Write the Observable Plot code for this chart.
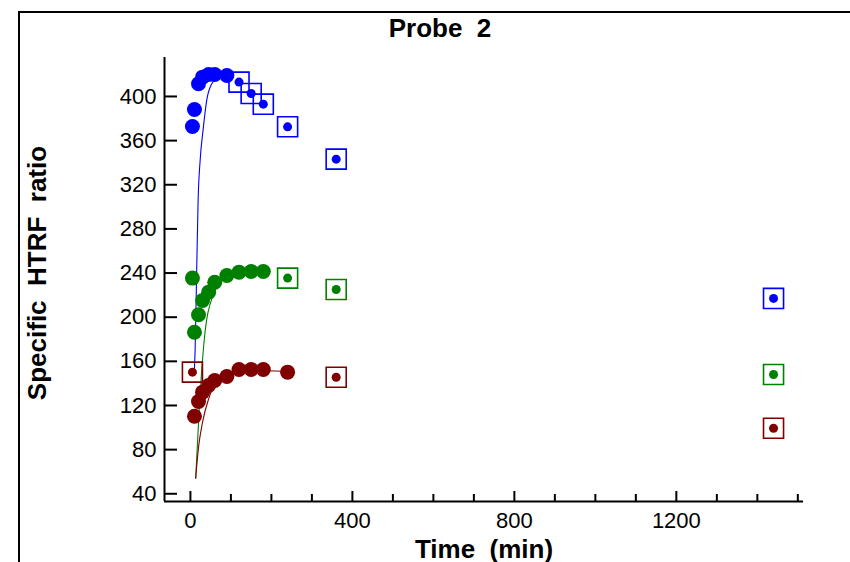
<!DOCTYPE html>
<html><head><meta charset="utf-8">
<script src="https://cdn.jsdelivr.net/npm/d3@7"></script>
<script src="https://cdn.jsdelivr.net/npm/@observablehq/plot@0.6"></script>
<style>
body{margin:0;background:#fff;}
#wrap{position:relative;width:850px;height:562px;overflow:hidden;}
#wrap svg{position:absolute;left:0;top:0;}
#border{position:absolute;left:18px;top:11px;width:900px;height:600px;border:2px solid #000;pointer-events:none;}
</style></head><body><div id="wrap"><div id="border"></div></div>
<script>
// ---- data ----
const seriesNames = ["series A", "series B", "series C"];
const seriesColors = ["#0000ff", "#008000", "#800000"];

// fitted points (large filled circles)
const blueCircleT = [5, 10, 20, 30, 45, 60, 90];
const blueCircleV = [372.8, 388.2, 411.5, 417.5, 419.9, 419.9, 419];
const greenCircleT = [5, 10, 20, 30, 45, 60, 90, 120, 150, 180];
const greenCircleV = [235.4, 186.4, 202.2, 215.2, 222.7, 231.7, 237.8, 240.8, 241.4, 241.4];
const redCircleT = [10, 20, 30, 45, 60, 90, 120, 150, 180, 240];
const redCircleV = [110.3, 123.6, 132.1, 138.1, 142.7, 146.3, 152.6, 152.6, 152.6, 150.2];

// excluded points (small dots in open squares)
const blueSquareT = [120, 150, 180, 240, 360, 1440];
const blueSquareV = [413, 402.7, 393, 372.5, 343.2, 217];
const greenSquareT = [240, 360, 1440];
const greenSquareV = [235.4, 225.1, 148.1];
const redSquareT = [5, 360, 1440];
const redSquareV = [150.2, 145.6, 99.4];

// fitted curves
const blueFitT = [10, 11.6, 15, 19, 24, 32, 40, 52, 65, 90];
const blueFitV = [154, 170, 233, 306, 342, 372, 396, 411, 416, 419];
const greenFitT = [13, 22, 33, 54, 90, 120, 180];
const greenFitV = [54, 118, 175, 218, 237, 240, 241];
const redFitT = [13, 20, 30, 45, 60, 90, 120, 180, 240];
const redFitV = [54, 82, 105, 126, 139, 148, 151, 151.5, 151];

// axes
const xMajor = [0, 400, 800, 1200];
const xMinor = [100, 200, 300, 500, 600, 700, 900, 1000, 1100, 1300, 1400, 1500];
const yTicks = [40, 80, 120, 160, 200, 240, 280, 320, 360, 400];
const xDomain = [-64, 1514];
const yDomain = [33, 435.3];

const titleText = "Probe  2";
const xLabel = "Time  (min)";
const yLabel = "Specific  HTRF  ratio";

// ---- build tables ----
function rows(ts, vs, s) { return ts.map((t, i) => ({t, v: vs[i], s})); }
const [sA, sB, sC] = seriesNames;
const circles = [...rows(blueCircleT, blueCircleV, sA), ...rows(greenCircleT, greenCircleV, sB), ...rows(redCircleT, redCircleV, sC)];
const squares = [...rows(blueSquareT, blueSquareV, sA), ...rows(greenSquareT, greenSquareV, sB), ...rows(redSquareT, redSquareV, sC)];
const fits = [...rows(blueFitT, blueFitV, sA), ...rows(greenFitT, greenFitV, sB), ...rows(redFitT, redFitV, sC)];

const W = 850, H = 562, mL = 164, mR = 47, mT = 57, mB = 61;
const fw = W - mL - mR, fh = H - mT - mB;

const chart = Plot.plot({
  width: W, height: H,
  marginLeft: mL, marginRight: mR, marginTop: mT, marginBottom: mB,
  style: {fontFamily: "'Liberation Sans', Arial, sans-serif", fontSize: "22px", color: "#000", background: "transparent", overflow: "visible"},
  x: {domain: xDomain, axis: null},
  y: {domain: yDomain, axis: null},
  color: {domain: seriesNames, range: seriesColors},
  marks: [
    Plot.line(fits, {x: "t", y: "v", z: "s", stroke: "s", curve: "monotone-x", strokeWidth: 1.1}),
    Plot.dot(circles, {x: "t", y: "v", fill: "s", r: 7.5}),
    Plot.dot(squares, {x: "t", y: "v", fill: "s", r: 4.5}),
    Plot.dot(squares, {x: "t", y: "v", stroke: "s", symbol: "square", r: 11.3, fill: "none", strokeWidth: 1.6}),
    // axis lines
    Plot.ruleX([xDomain[0]], {stroke: "#000", strokeWidth: 2}),
    Plot.ruleY([yDomain[0]], {stroke: "#000", strokeWidth: 2}),
    // inward ticks
    Plot.tickY(yTicks, {y: d => d, stroke: "#000", strokeWidth: 2, insetRight: fw - 13}),
    Plot.tickX(xMajor, {x: d => d, stroke: "#000", strokeWidth: 2, insetTop: fh - 10}),
    Plot.tickX(xMinor, {x: d => d, stroke: "#000", strokeWidth: 2, insetTop: fh - 7}),
    // tick labels
    Plot.axisY(yTicks, {tickSize: 0, tickPadding: 8, label: null, fontSize: 22, tickFormat: d => String(d)}),
    Plot.axisX(xMajor, {tickSize: 0, tickPadding: 11, label: null, fontSize: 22, tickFormat: d => String(d)}),
    // titles
    Plot.text([titleText], {frameAnchor: "top", dx: -44, dy: -39, fontSize: 26, fontWeight: "bold", fill: "#000"}),
    Plot.text([xLabel], {frameAnchor: "bottom", dy: 56, fontSize: 26, fontWeight: "bold", fill: "#000"}),
    Plot.text([yLabel], {frameAnchor: "left", textAnchor: "middle", dx: -127, dy: -6.5, rotate: -90, fontSize: 26, fontWeight: "bold", fill: "#000"})
  ]
});
document.getElementById("wrap").appendChild(chart);
</script>
</body></html>
